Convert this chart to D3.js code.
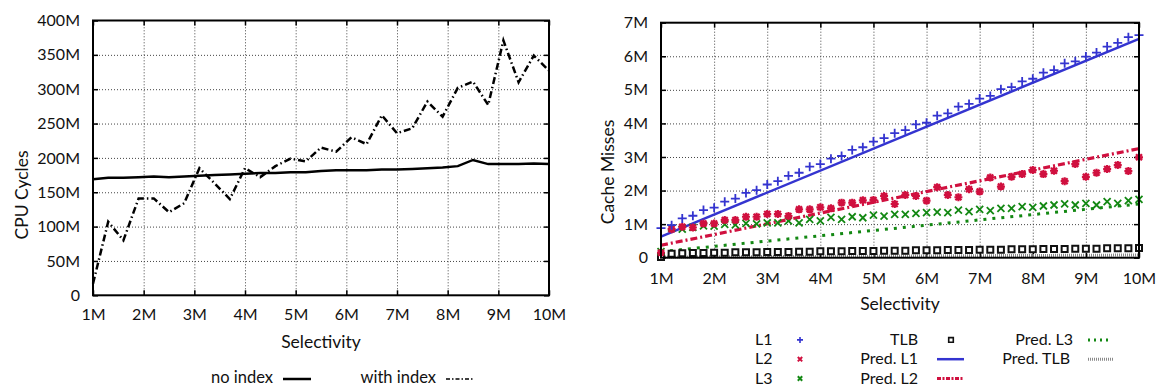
<!DOCTYPE html>
<html>
<head>
<meta charset="utf-8">
<script src="https://cdn.jsdelivr.net/npm/d3@7"></script>
<style>
  html, body { margin: 0; padding: 0; background: #fff; }
  svg { display: block; font-family: Lato, "Noto Sans", sans-serif; }
  .grid line { stroke: #444; stroke-width: 1; stroke-dasharray: 1 2; }
  .grid path { display: none; }
  .tk line { stroke: #000; stroke-width: 1.5; }
  .tk path { display: none; }
  .lbl text { font-size: 16px; fill: #111; font-family: Lato, "Noto Sans", sans-serif; }
  .lbl path, .lbl line { display: none; }
</style>
</head>
<body>
<svg id="chart" width="1156" height="387"></svg>
<script>
// ---- Left panel: CPU cycles vs selectivity (values in millions) ----
const selLeft = [1.0, 1.3, 1.6, 1.9, 2.2, 2.5, 2.8, 3.1, 3.4, 3.7, 4.0, 4.3, 4.6, 4.9, 5.2, 5.5,
                 5.8, 6.1, 6.4, 6.7, 7.0, 7.3, 7.6, 7.9, 8.2, 8.5, 8.8, 9.1, 9.4, 9.7, 10.0];
const noIndex = [169, 171, 171, 172, 173, 172, 173, 174, 175, 176, 177, 178, 178, 179, 179, 181,
                 182, 182, 182, 183, 183, 184, 185, 186, 188, 197, 191, 191, 191, 192, 191];
const withIndex = [17, 107, 80, 141, 141, 121, 134, 185, 163, 140, 185, 172, 188, 199, 195, 215,
                   209, 230, 220, 262, 236, 243, 282, 260, 302, 311, 277, 371, 310, 349, 327];
const cyclesTicks = [0, 50, 100, 150, 200, 250, 300, 350, 400];
const cyclesTickLabels = ["0", "50M", "100M", "150M", "200M", "250M", "300M", "350M", "400M"];

// ---- Right panel: cache misses vs selectivity (values in millions) ----
const selRight = [1.0, 1.2, 1.4, 1.6, 1.8, 2.0, 2.2, 2.4, 2.6, 2.8, 3.0, 3.2, 3.4, 3.6, 3.8, 4.0,
                  4.2, 4.4, 4.6, 4.8, 5.0, 5.2, 5.4, 5.6, 5.8, 6.0, 6.2, 6.4, 6.6, 6.8, 7.0, 7.2,
                  7.4, 7.6, 7.8, 8.0, 8.2, 8.4, 8.6, 8.8, 9.0, 9.2, 9.4, 9.6, 9.8, 10.0];
const l1 = [0.88, 0.97, 1.17, 1.25, 1.42, 1.49, 1.67, 1.76, 1.93, 2.01, 2.18, 2.28, 2.44, 2.53, 2.71, 2.79,
            2.95, 3.03, 3.21, 3.29, 3.46, 3.56, 3.71, 3.80, 3.97, 4.02, 4.23, 4.30, 4.50, 4.58, 4.74, 4.82,
            5.02, 5.08, 5.25, 5.33, 5.51, 5.59, 5.79, 5.85, 5.99, 6.11, 6.29, 6.40, 6.57, 6.63];
const l2 = [0.15, 0.85, 0.92, 0.90, 1.02, 1.02, 1.12, 1.12, 1.22, 1.22, 1.30, 1.30, 1.24, 1.44, 1.44, 1.50,
            1.47, 1.64, 1.64, 1.71, 1.72, 1.84, 1.60, 1.87, 1.84, 1.70, 2.10, 1.87, 1.80, 2.04, 1.97, 2.39,
            2.12, 2.41, 2.49, 2.61, 2.49, 2.59, 2.28, 2.79, 2.41, 2.53, 2.64, 2.76, 2.58, 2.99];
const l3 = [0.18, 0.88, 0.85, 0.90, 0.95, 0.94, 0.99, 0.98, 1.02, 1.01, 1.04, 1.04, 1.10, 1.04, 1.14, 1.10,
            1.20, 1.14, 1.22, 1.19, 1.27, 1.24, 1.29, 1.29, 1.32, 1.34, 1.36, 1.34, 1.42, 1.37, 1.44, 1.40,
            1.47, 1.47, 1.52, 1.50, 1.54, 1.57, 1.60, 1.57, 1.62, 1.57, 1.67, 1.62, 1.70, 1.74];
const tlb = [0.02, 0.12, 0.13, 0.14, 0.14, 0.15, 0.15, 0.16, 0.16, 0.16, 0.17, 0.17, 0.17, 0.18, 0.18, 0.19,
             0.19, 0.19, 0.20, 0.20, 0.20, 0.21, 0.21, 0.21, 0.22, 0.22, 0.22, 0.23, 0.23, 0.23, 0.24, 0.24,
             0.24, 0.25, 0.25, 0.25, 0.26, 0.26, 0.26, 0.27, 0.27, 0.27, 0.28, 0.28, 0.28, 0.29];
// model predictions are straight lines: values at 1M and 10M
const predSel = [1, 10];
const predL1 = [0.63, 6.52];
const predL2 = [0.37, 3.25];
const predL3 = [0.18, 1.60];
const predTLB = [0.02, 0.08];
const missTicks = [0, 1, 2, 3, 4, 5, 6, 7];
const missTickLabels = ["0", "1M", "2M", "3M", "4M", "5M", "6M", "7M"];

const selTicks = [1, 2, 3, 4, 5, 6, 7, 8, 9, 10];
const selTickLabels = ["1M", "2M", "3M", "4M", "5M", "6M", "7M", "8M", "9M", "10M"];

const BLUE = "#3434d0", RED = "#d0103f", GREEN = "#138813", GREY = "#8a8a8a";
const TITLE_SIZE = 17.5;

const svg = d3.select("#chart");

function panel(box, yDomain, yTicks, yLabels, xPad, yTitle, titleCenterY, titleX) {
  const x = d3.scaleLinear().domain([1, 10]).range([box.left, box.right]);
  const y = d3.scaleLinear().domain(yDomain).range([box.bottom, box.top]);
  const w = box.right - box.left, h = box.bottom - box.top;
  const g = svg.append("g");

  // dotted grid
  g.append("g").attr("class", "grid").attr("transform", `translate(0,${box.bottom})`)
    .call(d3.axisBottom(x).tickValues(selTicks.slice(1, -1)).tickSize(-h).tickFormat(""));
  g.append("g").attr("class", "grid").attr("transform", `translate(${box.left},0)`)
    .call(d3.axisLeft(y).tickValues(yTicks.slice(1, -1)).tickSize(-w).tickFormat(""));

  // inward tick marks on all four sides
  const ts = 5;
  g.append("g").attr("class", "tk").attr("transform", `translate(0,${box.bottom})`)
    .call(d3.axisBottom(x).tickValues(selTicks).tickSize(-ts).tickFormat(""));
  g.append("g").attr("class", "tk").attr("transform", `translate(0,${box.top})`)
    .call(d3.axisTop(x).tickValues(selTicks).tickSize(-ts).tickFormat(""));
  g.append("g").attr("class", "tk").attr("transform", `translate(${box.left},0)`)
    .call(d3.axisLeft(y).tickValues(yTicks).tickSize(-ts).tickFormat(""));
  g.append("g").attr("class", "tk").attr("transform", `translate(${box.right},0)`)
    .call(d3.axisRight(y).tickValues(yTicks).tickSize(-ts).tickFormat(""));

  // tick labels
  g.append("g").attr("class", "lbl").attr("transform", `translate(0,${box.bottom})`)
    .call(d3.axisBottom(x).tickValues(selTicks).tickSize(0).tickPadding(xPad)
      .tickFormat((d, i) => selTickLabels[i]));
  g.append("g").attr("class", "lbl").attr("transform", `translate(${box.left},0)`)
    .call(d3.axisLeft(y).tickValues(yTicks).tickSize(0).tickPadding(13)
      .tickFormat((d, i) => yLabels[i]));

  // titles
  g.append("text").attr("x", (box.left + box.right) / 2).attr("y", box.xTitleY)
    .attr("text-anchor", "middle").attr("font-size", TITLE_SIZE).attr("fill", "#111").text("Selectivity");
  g.append("text").attr("transform", `translate(${titleX},${titleCenterY}) rotate(-90)`)
    .attr("text-anchor", "middle").attr("font-size", TITLE_SIZE).attr("fill", "#111").text(yTitle);

  const plot = g.append("g");
  const frame = () => g.append("rect").attr("x", box.left).attr("y", box.top)
    .attr("width", w).attr("height", h).attr("fill", "none").attr("stroke", "#000").attr("stroke-width", 2);
  return { x, y, plot, frame };
}

// ---------- left panel ----------
const L = panel({ left: 93, right: 549, top: 20.5, bottom: 295.3, xTitleY: 347.5 },
  [0, 400], cyclesTicks, cyclesTickLabels, 13.5, "CPU Cycles", 195, 28);
const lineL = d3.line().x((d, i) => L.x(selLeft[i])).y(d => L.y(d));
L.plot.append("path").attr("d", lineL(noIndex)).attr("fill", "none")
  .attr("stroke", "#000").attr("stroke-width", 2.5);
L.plot.append("path").attr("d", lineL(withIndex)).attr("fill", "none")
  .attr("stroke", "#000").attr("stroke-width", 2.5).attr("stroke-dasharray", "7 3 1.5 3");
L.frame();

// legend
svg.append("text").attr("x", 273).attr("y", 383).attr("text-anchor", "end")
  .attr("font-size", 16.5).attr("fill", "#111").text("no index");
svg.append("line").attr("x1", 283).attr("x2", 311).attr("y1", 379).attr("y2", 379)
  .attr("stroke", "#000").attr("stroke-width", 2.5);
svg.append("text").attr("x", 436).attr("y", 383).attr("text-anchor", "end")
  .attr("font-size", 16.5).attr("fill", "#111").text("with index");
svg.append("line").attr("x1", 446).attr("x2", 474).attr("y1", 379).attr("y2", 379)
  .attr("stroke", "#000").attr("stroke-width", 1.5).attr("stroke-dasharray", "4 2 1.5 2");

// ---------- right panel ----------
const R = panel({ left: 661, right: 1139, top: 22.7, bottom: 257.7, xTitleY: 309.5 },
  [0, 7], missTicks, missTickLabels, 15, "Cache Misses", 172, 614);

const markers = {
  plus: s => `M${-s},0H${s}M0,${-s}V${s}`,
  cross: s => `M${-s},${-s}L${s},${s}M${-s},${s}L${s},${-s}`,
  star: s => `M${-s},0H${s}M0,${-s}V${s}M${-s * 0.75},${-s * 0.75}L${s * 0.75},${s * 0.75}M${-s * 0.75},${s * 0.75}L${s * 0.75},${-s * 0.75}`,
  square: s => `M${-s},${-s}H${s}V${s}H${-s}Z`
};

function predLine(vals, color, width, dash) {
  const ln = d3.line().x((d, i) => R.x(predSel[i])).y(d => R.y(d));
  const p = R.plot.append("path").attr("d", ln(vals)).attr("fill", "none")
    .attr("stroke", color).attr("stroke-width", width);
  if (dash) p.attr("stroke-dasharray", dash);
}
function pointSeries(vals, shape, size, color, width, fill) {
  R.plot.append("g").selectAll("path").data(vals).join("path")
    .attr("transform", (d, i) => `translate(${R.x(selRight[i])},${R.y(d)})`)
    .attr("d", markers[shape](size)).attr("fill", fill || "none")
    .attr("stroke", color).attr("stroke-width", width);
}

predLine(predTLB, GREY, 3, "1 1");
predLine(predL3, GREEN, 3, "3 6");
predLine(predL2, RED, 3.2, "7 3 2 3");
predLine(predL1, BLUE, 2.5, null);
pointSeries(tlb, "square", 3, "#111", 2, "#fff");
pointSeries(l3, "cross", 3.5, GREEN, 1.8);
pointSeries(l2, "star", 4, RED, 2.2);
pointSeries(l1, "plus", 4.5, BLUE, 1.8);
R.frame();

// legend (three columns)
const rows = [344.9, 364.2, 383.5];
const leg = svg.append("g").attr("font-size", 16).attr("fill", "#111");
function legText(x, y, t, anchor) {
  leg.append("text").attr("x", x).attr("y", y).attr("text-anchor", anchor).text(t);
}
function legMark(x, y, shape, size, color, width, fill) {
  leg.append("path").attr("transform", `translate(${x},${y - 5})`).attr("d", markers[shape](size))
    .attr("fill", fill || "none").attr("stroke", color).attr("stroke-width", width);
}
function legLine(x1, x2, y, color, width, dash) {
  const l = leg.append("line").attr("x1", x1).attr("x2", x2).attr("y1", y - 5).attr("y2", y - 5)
    .attr("stroke", color).attr("stroke-width", width);
  if (dash) l.attr("stroke-dasharray", dash);
}
legText(755, rows[0], "L1", "start"); legMark(800, rows[0], "plus", 3, BLUE, 1.6);
legText(755, rows[1], "L2", "start"); legMark(800, rows[1], "cross", 2.2, RED, 2);
legText(755, rows[2], "L3", "start"); legMark(800, rows[2], "cross", 2.2, GREEN, 2);
legText(918, rows[0], "TLB", "end"); legMark(951, rows[0], "square", 2.3, "#111", 1.6, "#fff");
legText(918, rows[1], "Pred. L1", "end"); legLine(937, 964, rows[1], BLUE, 2.5);
legText(918, rows[2], "Pred. L2", "end"); legLine(937, 964, rows[2], RED, 3, "4 1.5 2 1.5");
legText(1073, rows[0], "Pred. L3", "end"); legLine(1088, 1112, rows[0], GREEN, 3, "2 4");
legText(1070, rows[1], "Pred. TLB", "end"); legLine(1088, 1114, rows[1], GREY, 3, "1 1");
</script>
</body>
</html>
